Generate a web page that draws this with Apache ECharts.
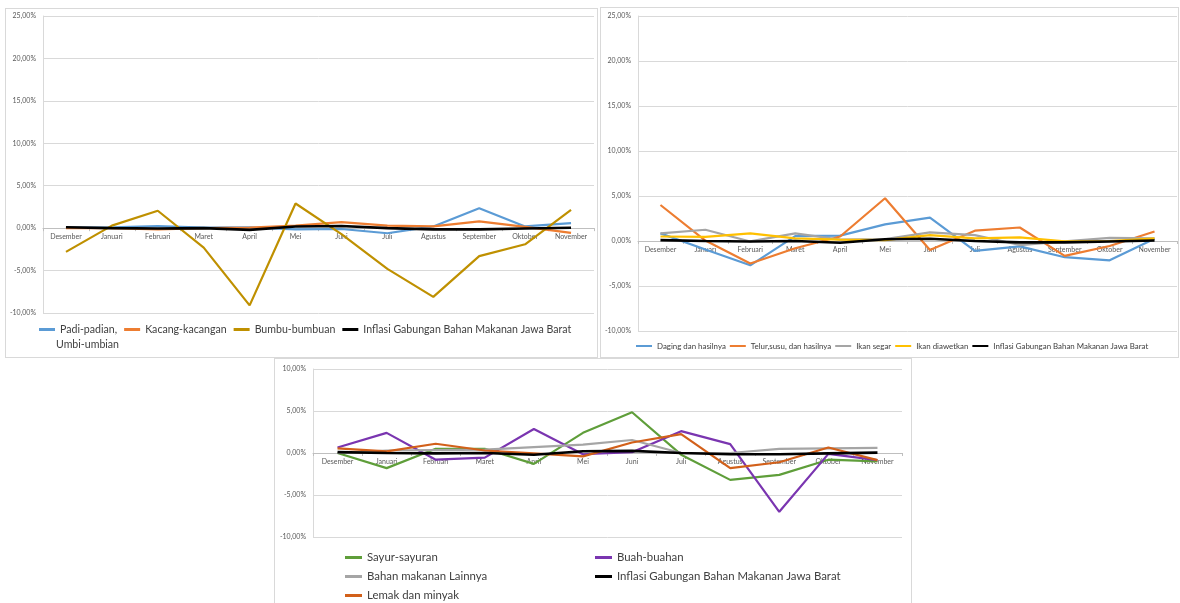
<!DOCTYPE html>
<html>
<head>
<meta charset="utf-8">
<script src="https://cdn.jsdelivr.net/npm/echarts@6/dist/echarts.min.js"></script>
<style>
html,body{margin:0;padding:0;background:#fff;width:1180px;height:603px;overflow:hidden;}
.panel{position:absolute;border:1px solid #d9d9d9;box-sizing:border-box;background:#fff;}
</style>
</head>
<body>
<div id="p1" class="panel" style="left:5px;top:8px;width:593px;height:350px;"></div>
<div id="p2" class="panel" style="left:600px;top:7px;width:579px;height:351px;"></div>
<div id="p3" class="panel" style="left:274px;top:358px;width:638px;height:252px;"></div>
<script>
// ---- data (percent) ----
var months = ['Desember','Januari','Februari','Maret','April','Mei','Juni','Juli','Agustus','September','Oktober','November'];
var inflasiGabungan = [0.1, 0.0, -0.05, 0.0, -0.2, 0.2, 0.25, 0.0, -0.15, -0.15, -0.05, 0.05];

// Panel 1
var padiPadian = [0.05, 0.1, 0.25, 0.05, 0.1, -0.15, -0.1, -0.6, 0.2, 2.35, 0.2, 0.6];
var kacangKacangan = [0.0, 0.0, -0.15, 0.0, 0.05, 0.3, 0.7, 0.3, 0.2, 0.8, 0.15, -0.55];
var bumbuBumbuan = [-2.8, 0.3, 2.05, -2.3, -9.1, 2.9, -0.7, -4.8, -8.1, -3.3, -1.9, 2.15];

// Panel 2
var dagingHasilnya = [0.85, -0.95, -2.7, 0.55, 0.6, 1.85, 2.6, -1.1, -0.6, -1.8, -2.15, 0.25];
var telurSusu = [4.0, 0.05, -2.5, -0.8, 0.5, 4.75, -1.0, 1.15, 1.5, -1.65, -0.55, 1.05];
var ikanSegar = [0.85, 1.25, -0.05, 0.85, 0.15, 0.2, 0.95, 0.65, -0.45, -0.05, 0.35, 0.3];
var ikanDiawetkan = [0.5, 0.45, 0.85, 0.3, 0.15, 0.1, 0.65, 0.3, 0.4, -0.05, 0.0, 0.3];

// Panel 3
var sayurSayuran = [0.0, -1.8, 0.5, 0.5, -1.3, 2.4, 4.85, -0.2, -3.2, -2.6, -0.8, -1.0];
var buahBuahan = [0.65, 2.4, -0.8, -0.55, 2.85, -0.15, 0.1, 2.6, 1.05, -7.0, -0.1, -0.85];
var bahanLainnya = [0.0, 0.3, 0.35, 0.4, 0.7, 1.0, 1.55, 0.0, 0.0, 0.5, 0.55, 0.6];
var lemakMinyak = [0.55, 0.2, 1.1, 0.3, -0.05, -0.4, 1.25, 2.25, -1.8, -1.1, 0.65, -0.85];

var yTicks1 = {min: -10, max: 25, interval: 5};
var yTicks3 = {min: -10, max: 10, interval: 5};

// ---- helpers ----
var FONT = 'Lato, "Liberation Sans", sans-serif';
var INFL = 'Inflasi Gabungan Bahan Makanan Jawa Barat';
function pct(v){ return v.toFixed(2).replace('.', ',') + '%'; }
function line(name, data, color, width){
  return {name: name, type: 'line', data: data, symbol: 'none', smooth: false,
    lineStyle: {color: color, width: width || 2.2}, itemStyle: {color: color}, z: name === INFL ? 5 : 3};
}
function axes(grid, yt){
  // category axis sits at the zero of the value axis (Excel style)
  var zeroFromBottom = grid.height * (0 - yt.min) / (yt.max - yt.min);
  return {
    grid: grid,
    xAxis: {type: 'category', data: months, boundaryGap: true, offset: -zeroFromBottom,
      axisLine: {onZero: false, lineStyle: {color: '#bfbfbf', width: 1}},
      axisTick: {show: true, length: 3, lineStyle: {color: '#bfbfbf'}},
      axisLabel: {interval: 0, fontSize: 7, color: '#595959', fontFamily: FONT, margin: 5},
      splitLine: {show: false}},
    yAxis: {type: 'value', min: yt.min, max: yt.max, interval: yt.interval,
      axisLine: {show: true, lineStyle: {color: '#d9d9d9'}},
      axisTick: {show: false},
      axisLabel: {fontSize: 7, color: '#595959', fontFamily: FONT, margin: 7, formatter: pct},
      splitLine: {lineStyle: {color: '#d9d9d9', width: 1}}}
  };
}

// ---- Panel 1 ----
var c1 = echarts.init(document.getElementById('p1'), null, {renderer: 'canvas'});
var o1 = axes({left: 37, top: 7, width: 551, height: 297}, yTicks1);
o1.animation = false;
o1.legend = {left: 33, top: 315, padding: 0, itemGap: 7, itemWidth: 16, itemHeight: 3, icon: 'rect',
  textStyle: {fontSize: 10.6, color: '#404040', fontFamily: FONT},
  formatter: function(n){ return n === 'Padi-padian, Umbi-umbian' ? 'Padi-padian,' : n; },
  data: ['Padi-padian, Umbi-umbian', 'Kacang-kacangan', 'Bumbu-bumbuan', INFL]};
o1.graphic = [{type: 'text', left: 50, top: 330, style: {text: 'Umbi-umbian', fontSize: 10.6, fill: '#404040', fontFamily: FONT}}];
o1.series = [
  line('Padi-padian, Umbi-umbian', padiPadian, '#5B9BD5'),
  line('Kacang-kacangan', kacangKacangan, '#ED7D31'),
  line('Bumbu-bumbuan', bumbuBumbuan, '#BF9000'),
  line(INFL, inflasiGabungan, '#000000', 2.6)
];
c1.setOption(o1);

// ---- Panel 2 ----
var c2 = echarts.init(document.getElementById('p2'), null, {renderer: 'canvas'});
var o2 = axes({left: 37, top: 8, width: 539, height: 315}, yTicks1);
o2.animation = false;
o2.legend = {left: 35, top: 334, padding: 0, itemGap: 4, itemWidth: 16, itemHeight: 2, icon: 'rect',
  textStyle: {fontSize: 7.9, color: '#404040', fontFamily: FONT},
  data: ['Daging dan hasilnya', 'Telur,susu, dan hasilnya', 'Ikan segar', 'Ikan diawetkan', INFL]};
o2.series = [
  line('Daging dan hasilnya', dagingHasilnya, '#5B9BD5'),
  line('Telur,susu, dan hasilnya', telurSusu, '#ED7D31'),
  line('Ikan segar', ikanSegar, '#A5A5A5'),
  line('Ikan diawetkan', ikanDiawetkan, '#FFC000'),
  line(INFL, inflasiGabungan, '#000000', 2.6)
];
c2.setOption(o2);

// ---- Panel 3 ----
var c3 = echarts.init(document.getElementById('p3'), null, {renderer: 'canvas'});
var o3 = axes({left: 38, top: 10, width: 589, height: 168}, yTicks3);
o3.animation = false;
var legText3 = {fontSize: 11.4, color: '#404040', fontFamily: FONT, lineHeight: 19};
o3.legend = [
  {orient: 'vertical', left: 70, top: 189, padding: 0, itemGap: 0, itemWidth: 17, itemHeight: 3, icon: 'rect',
    textStyle: legText3, data: ['Sayur-sayuran', 'Bahan makanan Lainnya', 'Lemak dan minyak']},
  {orient: 'vertical', left: 320, top: 189, padding: 0, itemGap: 0, itemWidth: 17, itemHeight: 3, icon: 'rect',
    textStyle: legText3, data: ['Buah-buahan', INFL]}
];
o3.series = [
  line('Sayur-sayuran', sayurSayuran, '#5F9E3A'),
  line('Buah-buahan', buahBuahan, '#7A35B0'),
  line('Bahan makanan Lainnya', bahanLainnya, '#A5A5A5'),
  line(INFL, inflasiGabungan, '#000000', 2.6),
  line('Lemak dan minyak', lemakMinyak, '#D2601A')
];
c3.setOption(o3);
</script>
</body>
</html>
